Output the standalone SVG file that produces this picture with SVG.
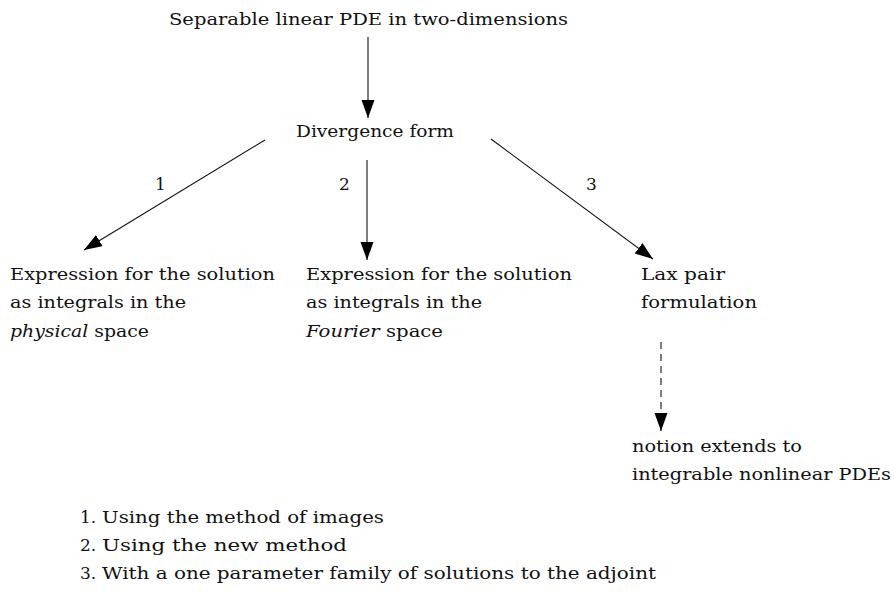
<svg xmlns="http://www.w3.org/2000/svg" width="894" height="592" viewBox="0 0 894 592">
<style>
text{font-family:"DejaVu Serif","Liberation Serif",serif;font-size:17px;fill:#111}
.it{font-style:italic}
.c{stroke:#111;stroke-width:1.1;fill:none}
.d{stroke-dasharray:7 5}
</style>
<defs>
<marker id="ah" markerUnits="userSpaceOnUse" markerWidth="19" markerHeight="14" refX="18" refY="6.5" orient="auto">
<path d="M0,0 L18,6.5 L0,13 z" fill="#000"/>
</marker>
</defs>
<rect width="894" height="592" fill="#fff"/>
<g id="connectors">
<line class="c" x1="368" y1="37" x2="368" y2="118" marker-end="url(#ah)"/>
<line class="c" x1="265" y1="140" x2="84" y2="250" marker-end="url(#ah)"/>
<line class="c" x1="367" y1="160" x2="367" y2="260" marker-end="url(#ah)"/>
<line class="c" x1="491" y1="139" x2="653" y2="259" marker-end="url(#ah)"/>
<line class="c d" x1="661" y1="342" x2="661" y2="431" marker-end="url(#ah)"/>
<text x="155" y="190">1</text>
<text x="339" y="190">2</text>
<text x="586" y="190">3</text>
</g>
<g id="n-pde"><text x="169" y="25" textLength="399" lengthAdjust="spacingAndGlyphs">Separable linear PDE in two-dimensions</text></g>
<g id="n-div"><text x="296" y="137" textLength="158" lengthAdjust="spacingAndGlyphs">Divergence form</text></g>
<g id="n-phys">
<text x="10" y="280" textLength="265" lengthAdjust="spacingAndGlyphs">Expression for the solution</text>
<text x="10" y="308" textLength="176" lengthAdjust="spacingAndGlyphs">as integrals in the</text>
<text x="10" y="337" textLength="139" lengthAdjust="spacingAndGlyphs"><tspan class="it">physical</tspan> space</text>
</g>
<g id="n-four">
<text x="306" y="280" textLength="266" lengthAdjust="spacingAndGlyphs">Expression for the solution</text>
<text x="306" y="308" textLength="176" lengthAdjust="spacingAndGlyphs">as integrals in the</text>
<text x="306" y="337" textLength="137" lengthAdjust="spacingAndGlyphs"><tspan class="it">Fourier</tspan> space</text>
</g>
<g id="n-lax">
<text x="641" y="280" textLength="84" lengthAdjust="spacingAndGlyphs">Lax pair</text>
<text x="641" y="308" textLength="116" lengthAdjust="spacingAndGlyphs">formulation</text>
</g>
<g id="n-nonlin">
<text x="632" y="452" textLength="170" lengthAdjust="spacingAndGlyphs">notion extends to</text>
<text x="632" y="480" textLength="259" lengthAdjust="spacingAndGlyphs">integrable nonlinear PDEs</text>
</g>
<g id="legend">
<text x="80" y="523"><tspan>1.</tspan><tspan x="102" textLength="282" lengthAdjust="spacingAndGlyphs">Using the method of images</tspan></text>
<text x="80" y="551"><tspan>2.</tspan><tspan x="102" textLength="245" lengthAdjust="spacingAndGlyphs">Using the new method</tspan></text>
<text x="80" y="579"><tspan>3.</tspan><tspan x="102" textLength="554" lengthAdjust="spacingAndGlyphs">With a one parameter family of solutions to the adjoint</tspan></text>
</g>
</svg>
